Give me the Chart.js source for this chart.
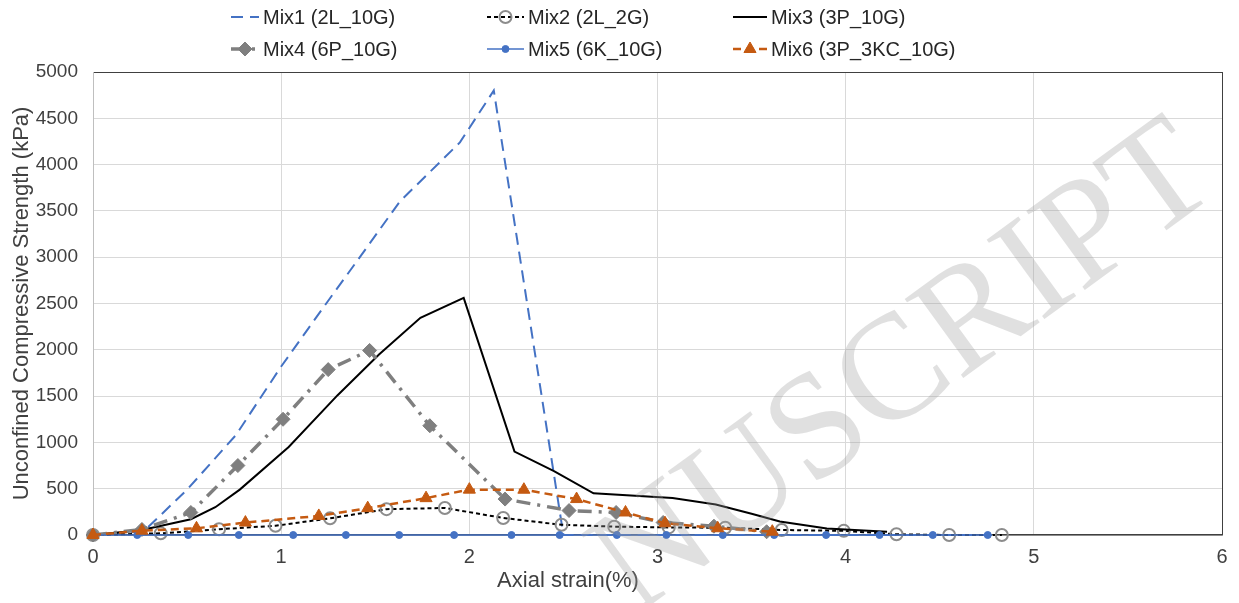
<!DOCTYPE html>
<html>
<head>
<meta charset="utf-8">
<script src="https://cdn.jsdelivr.net/npm/chart.js@4.4.1/dist/chart.umd.min.js"></script>
<style>
  html, body { margin: 0; padding: 0; background: #fff; }
  canvas { display: block; }
</style>
</head>
<body>
<canvas id="chart" width="1239" height="603"></canvas>
<script>
// values (x = axial strain %, y = UCS kPa)
const mix1X = [0, 0.27, 0.5, 0.76, 1.0, 1.25, 1.45, 1.63, 1.95, 2.13, 2.5, 3.0, 3.5, 4.0, 4.5, 4.8];
const mix1Y = [0, 40, 490, 1080, 1820, 2530, 3090, 3600, 4240, 4800, 0, 0, 0, 0, 0, 0];

const mix2X = [0, 0.36, 0.67, 0.97, 1.26, 1.56, 1.87, 2.18, 2.49, 2.77, 3.06, 3.36, 3.66, 3.99, 4.27, 4.55, 4.83];
const mix2Y = [0, 18, 62, 100, 180, 279, 292, 184, 110, 90, 82, 78, 54, 45, 8, 0, 0];

const mix3X = [0, 0.26, 0.52, 0.65, 0.78, 1.04, 1.3, 1.52, 1.74, 1.97, 2.24, 2.45, 2.66, 3.08, 3.31, 3.5, 3.65, 3.9, 4.22];
const mix3Y = [0, 55, 170, 300, 490, 950, 1510, 1950, 2345, 2560, 900, 690, 450, 400, 330, 230, 145, 70, 35];

const mix4X = [0, 0.26, 0.52, 0.77, 1.01, 1.25, 1.47, 1.79, 2.19, 2.53, 2.78, 3.03, 3.3, 3.58];
const mix4Y = [0, 60, 243, 750, 1250, 1786, 1993, 1180, 388, 264, 243, 135, 95, 35];

const mix5X = [0, 0.235, 0.506, 0.775, 1.064, 1.344, 1.627, 1.919, 2.224, 2.48, 2.784, 3.047, 3.347, 3.62, 3.896, 4.18, 4.463, 4.755];
const mix5Y = [0, 0, 0, 0, 0, 0, 0, 0, 0, 0, 0, 0, 0, 0, 0, 0, 0, 0];

const mix6X = [0, 0.26, 0.55, 0.81, 1.2, 1.46, 1.77, 2.0, 2.29, 2.57, 2.83, 3.04, 3.32, 3.61];
const mix6Y = [0, 47, 72, 134, 206, 290, 398, 490, 489, 388, 243, 127, 73, 36];

const seriesNames = ["Mix1 (2L_10G)", "Mix2 (2L_2G)", "Mix3 (3P_10G)", "Mix4 (6P_10G)", "Mix5 (6K_10G)", "Mix6 (3P_3KC_10G)"];
const xTitle = "Axial strain(%)";
const yTitle = "Unconfined Compressive Strength (kPa)";

const pts = (xs, ys) => xs.map((x, i) => ({ x, y: ys[i] }));
const FONT = '"Liberation Sans", Arial, sans-serif';
Chart.defaults.font.family = FONT;

// legend slots: [line start, line end] per column, y per row
const legendCols = [[231, 259], [487, 524], [733, 767]];
const legendRows = [17, 49];

const sketchLegend = {
  id: "sketchLegend",
  afterDraw(chart) {
    const ctx = chart.ctx;
    ctx.save();
    ctx.font = "20px " + FONT;
    ctx.textBaseline = "middle";
    chart.data.datasets.forEach((ds, i) => {
      const [x0, x1] = legendCols[i % 3];
      const y = legendRows[Math.floor(i / 3)];
      ctx.strokeStyle = ds.borderColor;
      ctx.lineWidth = ds.borderWidth;
      ctx.setLineDash(ds.borderDash || []);
      ctx.beginPath();
      ctx.moveTo(x0, y);
      ctx.lineTo(x1, y);
      ctx.stroke();
      ctx.setLineDash([]);
      if (ds.pointRadius > 0) {
        ctx.fillStyle = ds.pointBackgroundColor;
        ctx.strokeStyle = ds.pointBorderColor;
        ctx.lineWidth = ds.pointBorderWidth;
        Chart.helpers.drawPoint(ctx, {
          pointStyle: ds.pointStyle, radius: ds.pointRadius,
          rotation: 0, borderWidth: ds.pointBorderWidth
        }, (x0 + x1) / 2, y);
      }
      ctx.fillStyle = "#262626";
      ctx.fillText(ds.label, x1 + 4, y + 1);
    });
    ctx.restore();
  }
};

const axisTitle = {
  id: "axisTitle",
  afterDraw(chart) {
    const ctx = chart.ctx;
    ctx.save();
    ctx.font = "22px " + FONT;
    ctx.fillStyle = "#404040";
    ctx.textAlign = "center";
    ctx.textBaseline = "middle";
    ctx.fillText(xTitle, 568, 581);
    ctx.restore();
  }
};

// diagonal "accepted manuscript" stamp, only the part inside the frame shows
const watermark = {
  id: "watermark",
  afterDraw(chart) {
    const ctx = chart.ctx;
    ctx.save();
    ctx.translate(1222, 190);
    ctx.rotate(-36 * Math.PI / 180);
    ctx.font = '150px "Liberation Serif", serif';
    ctx.textAlign = "right";
    ctx.textBaseline = "alphabetic";
    ctx.fillStyle = "rgba(160,160,160,0.32)";
    ctx.fillText("NUSCRIPT", 0, 0);
    ctx.restore();
  }
};

const blue = "#4472C4", gray = "#7F7F7F", orange = "#C55A11";

new Chart(document.getElementById("chart"), {
  type: "line",
  data: {
    datasets: [
      { label: seriesNames[0], data: pts(mix1X, mix1Y), order: 6,
        borderColor: blue, borderWidth: 2, borderDash: [12, 7], pointRadius: 0 },
      { label: seriesNames[1], data: pts(mix2X, mix2Y), order: 5,
        borderColor: "#000", borderWidth: 2, borderDash: [4, 3],
        pointStyle: "circle", pointRadius: 6, pointBorderWidth: 2,
        pointBorderColor: "#8c8c8c", pointBackgroundColor: "rgba(255,255,255,0)" },
      { label: seriesNames[2], data: pts(mix3X, mix3Y), order: 4,
        borderColor: "#000", borderWidth: 2, pointRadius: 0 },
      { label: seriesNames[3], data: pts(mix4X, mix4Y), order: 3,
        borderColor: gray, borderWidth: 3.5, borderDash: [14, 7, 3, 7],
        pointStyle: "rectRot", pointRadius: 7, pointBorderWidth: 1,
        pointBorderColor: gray, pointBackgroundColor: gray },
      { label: seriesNames[4], data: pts(mix5X, mix5Y), order: 2,
        borderColor: blue, borderWidth: 1.5,
        pointStyle: "circle", pointRadius: 3.5, pointBorderWidth: 1,
        pointBorderColor: blue, pointBackgroundColor: blue },
      { label: seriesNames[5], data: pts(mix6X, mix6Y), order: 1,
        borderColor: orange, borderWidth: 2.5, borderDash: [8, 5],
        pointStyle: "triangle", pointRadius: 7, pointBorderWidth: 1,
        pointBorderColor: orange, pointBackgroundColor: orange }
    ]
  },
  options: {
    responsive: false,
    animation: false,
    devicePixelRatio: 1,
    layout: { padding: { top: 72, right: 17, left: 0, bottom: 0 } },
    datasets: { line: { clip: false, tension: 0 } },
    plugins: { legend: { display: false }, tooltip: { enabled: false } },
    scales: {
      x: {
        type: "linear", min: 0, max: 6,
        ticks: { stepSize: 1, padding: 10, color: "#404040", font: { size: 20 }, callback: v => String(v) },
        grid: { color: c => c.tick && c.tick.value === 6 ? "#404040" : "#d9d9d9", drawTicks: false },
        border: { color: "#404040", width: 1.5 },
        afterFit(s) { s.height = 68; }
      },
      y: {
        min: 0, max: 5000,
        ticks: { stepSize: 500, padding: 15, color: "#404040", font: { size: 19 }, callback: v => String(v) },
        grid: { color: c => c.tick && c.tick.value === 5000 ? "#404040" : "#d9d9d9", drawTicks: false },
        border: { color: "#bfbfbf" },
        title: { display: true, text: yTitle, color: "#404040", font: { size: 22 }, padding: { top: 9, bottom: 0 } },
        afterFit(s) { s.width = 93; }
      }
    }
  },
  plugins: [sketchLegend, axisTitle, watermark]
});
</script>
</body>
</html>
